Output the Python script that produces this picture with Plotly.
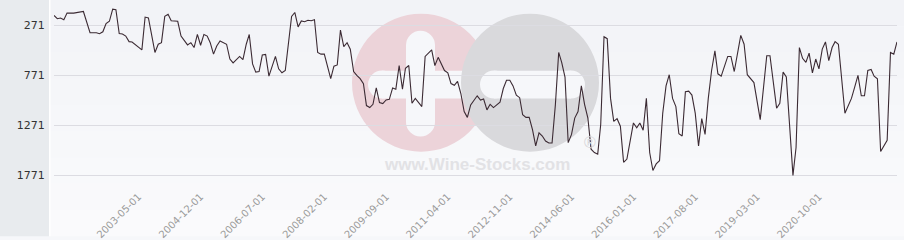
import plotly.graph_objects as go

# ---------------- data ----------------
dates = [
    "2001-03-01","2001-04-01","2001-05-01","2001-06-01","2001-07-01","2001-09-01","2001-12-01",
    "2002-02-01","2002-04-01","2002-05-01","2002-06-01","2002-07-01","2002-08-01","2002-09-01",
    "2002-10-01","2002-11-01","2002-12-01","2003-01-01","2003-02-01","2003-03-01","2003-06-01",
    "2003-07-01","2003-08-01","2003-10-01","2003-11-01","2003-12-01","2004-01-01","2004-02-01",
    "2004-03-01","2004-05-01","2004-06-01","2004-07-01","2004-08-01","2004-09-01","2004-10-01",
    "2004-11-01","2004-12-01","2005-01-01","2005-02-01","2005-03-01","2005-04-01","2005-05-01",
    "2005-06-01","2005-08-01","2005-09-01","2005-10-01","2005-12-01","2006-01-01","2006-02-01",
    "2006-03-01","2006-04-01","2006-05-01","2006-06-01","2006-07-01","2006-08-01","2006-09-01",
    "2006-10-01","2006-11-01","2006-12-01","2007-01-01","2007-02-01","2007-04-01","2007-05-01",
    "2007-06-01","2007-07-01","2007-08-01","2007-09-01","2007-10-01","2007-11-01","2007-12-01",
    "2008-01-01","2008-02-01","2008-04-01","2008-05-01","2008-06-01","2008-07-01","2008-08-01",
    "2008-09-01","2008-10-01","2008-11-01","2008-12-01","2009-01-01","2009-02-01","2009-03-01",
    "2009-04-01","2009-05-01","2009-06-01","2009-07-01","2009-08-01","2009-09-01","2009-10-01",
    "2009-11-01","2009-12-01","2010-01-01","2010-02-01","2010-03-01","2010-04-01","2010-05-01",
    "2010-06-01","2010-08-01","2010-09-01","2010-11-01","2010-12-01","2011-01-01","2011-03-01",
    "2011-04-01","2011-05-01","2011-06-01","2011-07-01","2011-08-01","2011-09-01","2011-10-01",
    "2011-11-01","2012-01-01","2012-02-01","2012-03-01","2012-04-01","2012-05-01","2012-06-01",
    "2012-08-01","2012-09-01","2012-10-01","2012-11-01","2012-12-01","2013-01-01","2013-02-01",
    "2013-03-01","2013-04-01","2013-05-01","2013-06-01","2013-07-01","2013-08-01","2013-09-01",
    "2013-10-01","2013-11-01","2013-12-01","2014-01-01","2014-02-01","2014-03-01","2014-04-01",
    "2014-05-01","2014-06-01","2014-07-01","2014-08-01","2014-09-01","2014-10-01","2014-11-01",
    "2014-12-01","2015-01-01","2015-02-01","2015-03-01","2015-04-01","2015-05-01","2015-06-01",
    "2015-07-01","2015-08-01","2015-09-01","2015-10-01","2015-11-01","2015-12-01","2016-01-01",
    "2016-02-01","2016-03-01","2016-04-01","2016-05-01","2016-06-01","2016-07-01","2016-08-01",
    "2016-09-01","2016-10-01","2016-11-01","2016-12-01","2017-01-01","2017-02-01","2017-03-01",
    "2017-04-01","2017-05-01","2017-06-01","2017-07-01","2017-08-01","2017-09-01","2017-10-01",
    "2017-11-01","2017-12-01","2018-01-01","2018-02-01","2018-03-01","2018-04-01","2018-05-01",
    "2018-06-01","2018-07-01","2018-08-01","2018-10-01","2018-11-01","2018-12-01","2019-01-01",
    "2019-02-01","2019-04-01","2019-06-01","2019-07-01","2019-09-01","2019-10-01","2019-11-01",
    "2019-12-01","2020-02-01","2020-03-01","2020-04-01","2020-05-01","2020-06-01","2020-07-01",
    "2020-08-01","2020-09-01","2020-10-01","2020-11-01","2020-12-01","2021-01-01","2021-02-01",
    "2021-03-01","2021-04-01","2021-06-01","2021-08-01","2021-09-01","2021-10-01","2021-11-01",
    "2021-12-01","2022-01-01","2022-02-01","2022-03-01","2022-04-01","2022-05-01","2022-07-01",
    "2022-08-01","2022-09-01","2022-10-01",
]
ranks = [
    169, 202, 195, 212, 146, 146, 130,
    343, 343, 353, 333, 251, 228, 107,
    113, 350, 356, 376, 432, 435, 514,
    186, 195, 540, 458, 442, 179, 159,
    222, 228, 376, 425, 465, 442, 491,
    360, 468, 360, 376, 442, 557, 475,
    425, 458, 606, 645, 580, 612, 458,
    360, 655, 737, 731, 566, 560, 777,
    671, 580, 704, 744, 721, 179, 140,
    284, 225, 232, 218, 222, 212, 540,
    557, 557, 803, 678, 665, 317, 481,
    442, 507, 731, 770, 803, 852, 1072,
    1092, 1059, 895, 1042, 1052, 1016, 1010,
    895, 908, 671, 908, 698, 671, 1049,
    1000, 1082, 580, 514, 671, 589, 721,
    744, 852, 869, 829, 951, 1131, 1190,
    1065, 974, 1016, 1006, 1115, 1059, 1092,
    1039, 901, 819, 819, 875, 967, 993,
    1164, 1190, 1190, 1312, 1476, 1345, 1377,
    1427, 1447, 1447, 1065, 540, 639, 786,
    1443, 1361, 1197, 1131, 875, 1059, 1197,
    1509, 1542, 1558, 1262, 383, 402, 1000,
    1230, 1203, 1279, 1640, 1607, 1410, 1246,
    1295, 1246, 1318, 1000, 1542, 1722, 1656,
    1624, 1148, 875, 763, 1000, 1082, 1354,
    1377, 934, 928, 967, 1148, 1476, 1203,
    1361, 1000, 721, 524, 754, 777, 672,
    580, 580, 731, 369, 458, 763, 803,
    842, 1213, 573, 573, 1098, 1049, 737,
    786, 1771, 1492, 491, 599, 639, 547,
    744, 606, 704, 507, 435, 622, 491,
    432, 458, 1148, 1000, 885, 770, 974,
    974, 721, 711, 777, 803, 1532, 1420,
    540, 557, 435,
]
x_ticks = ["2003-05-01", "2004-12-01", "2006-07-01", "2008-02-01", "2009-09-01", "2011-04-01",
           "2012-11-01", "2014-06-01", "2016-01-01", "2017-08-01", "2019-03-01", "2020-10-01"]
y_ticks = [271, 771, 1271, 1771]
watermark = "www.Wine-Stocks.com"

# ---------------- layout geometry ----------------
W, H = 904, 240
ML, MR, MT, MB = 54, 7, 0, 54
PW, PH = W - ML - MR, H - MT - MB


def px(xp):
    return (xp - ML) / PW


def py(yp):
    return 1 - (yp - MT) / PH


fig = go.Figure()
fig.add_trace(go.Scatter(
    x=dates, y=ranks, mode="lines",
    line=dict(color="#3b2a33", width=1.1),
    hoverinfo="x+y", showlegend=False,
))

shapes = []
band_cols = ["#f2f3f7", "#f3f4f8", "#f4f5f8", "#f5f6f9", "#f6f7fa", "#f7f8fa", "#f8f9fb", "#f9f9fb", "#fafafc"]
nb = len(band_cols)
for i, c in enumerate(band_cols):
    y0 = H * i / nb
    y1 = H * (i + 1) / nb
    shapes.append(dict(type="rect", xref="paper", yref="paper", x0=px(50), x1=px(W), y0=py(y1), y1=py(y0),
                       fillcolor=c, line_width=0, layer="below"))
shapes.append(dict(type="rect", xref="paper", yref="paper", x0=px(0), x1=px(49), y0=py(H), y1=py(0),
                   fillcolor="#e8ebee", line_width=0, layer="below"))
shapes.append(dict(type="rect", xref="paper", yref="paper", x0=px(49), x1=px(50.5), y0=py(H), y1=py(0),
                   fillcolor="#ffffff", line_width=0, layer="below"))


def circ(cx, cy, r, col):
    return dict(type="circle", xref="paper", yref="paper", xsizemode="pixel", ysizemode="pixel",
                xanchor=px(cx), yanchor=py(cy), x0=-r, x1=r, y0=-r, y1=r,
                fillcolor=col, line_width=0, layer="below")


def rect(x0, x1, y0, y1, col):
    return dict(type="rect", xref="paper", yref="paper", x0=px(x0), x1=px(x1), y0=py(y1), y1=py(y0),
                fillcolor=col, line_width=0, layer="below")


PINK = "#ecd3d9"
GREY = "#d9d9dc"
WH = "#f6f7fa"
shapes.append(circ(421, 84, 69, PINK))
shapes.append(rect(406, 435, 46, 124, WH))
shapes.append(circ(420.5, 46, 14.5, WH))
shapes.append(circ(420.5, 124, 14.5, WH))
shapes.append(rect(382, 470, 72, 100, WH))
shapes.append(circ(382, 86, 14, WH))
shapes.append(circ(530, 84, 69, GREY))
shapes.append(rect(494, 571, 72, 100, WH))
shapes.append(circ(494, 86, 14, WH))
shapes.append(circ(571, 86, 14, WH))

annotations = [
    dict(text=watermark, xref="paper", yref="paper", x=px(477), y=py(167), yanchor="middle",
         showarrow=False,
         font=dict(family="Liberation Sans, Arial", size=17, color="#e2e2e5", weight="bold")),
    dict(text="®", xref="paper", yref="paper", x=px(590), y=py(145), yanchor="middle", showarrow=False,
         font=dict(family="Liberation Sans, Arial", size=16, color="#d6d6d9")),
]

fig.update_layout(
    width=W, height=H,
    margin=dict(l=ML, r=MR, t=MT, b=MB, pad=0),
    paper_bgcolor="#f6f7fa",
    plot_bgcolor="rgba(0,0,0,0)",
    shapes=shapes,
    annotations=annotations,
    showlegend=False,
    xaxis=dict(
        type="date",
        range=[dates[0], dates[-1]],
        tickvals=x_ticks, ticktext=x_ticks,
        tickangle=-45,
        tickfont=dict(family="DejaVu Sans", size=10, color="#9a9a9a"),
        showgrid=False, zeroline=False, showline=False,
        ticks="outside", ticklen=3, tickcolor="rgba(0,0,0,0)",
    ),
    yaxis=dict(
        range=[1847, 15],
        tickvals=y_ticks, ticktext=[str(v) for v in y_ticks],
        tickfont=dict(family="DejaVu Sans", size=11, color="#333333"),
        showgrid=True, gridcolor="#dcdce2", gridwidth=1,
        zeroline=False, showline=False,
        ticks="outside", ticklen=6, tickcolor="rgba(0,0,0,0)",
    ),
)

fig.write_html("out.html")
